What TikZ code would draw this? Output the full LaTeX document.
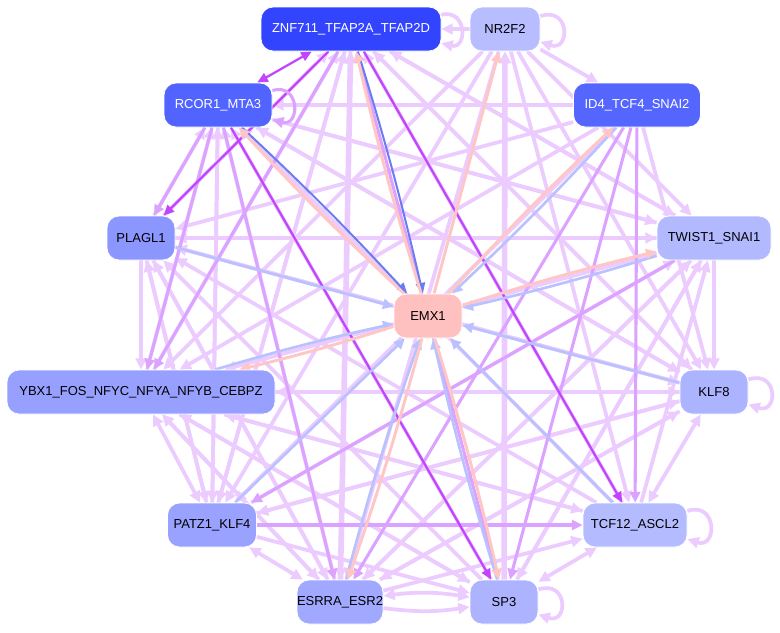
\documentclass[tikz,border=0pt]{standalone}
\usepackage{fontspec}
\setmainfont{Liberation Sans}
\usetikzlibrary{arrows.meta,backgrounds}
\definecolor{cZ}{HTML}{3344FF}
\definecolor{cR}{HTML}{5264FF}
\definecolor{cI}{HTML}{5566FF}
\definecolor{cP}{HTML}{8C96FF}
\definecolor{cY}{HTML}{97A0FF}
\definecolor{cA}{HTML}{9AA2FF}
\definecolor{cS}{HTML}{A0A8FF}
\definecolor{cQ}{HTML}{ADB3FF}
\definecolor{cK}{HTML}{ADB4FF}
\definecolor{cT}{HTML}{B3B9FF}
\definecolor{cC}{HTML}{B5BBFF}
\definecolor{cN}{HTML}{B8BDFF}
\definecolor{cE}{HTML}{FFC0C0}
\definecolor{ePale}{HTML}{ECCBFF}
\definecolor{eMed}{HTML}{DCA2FF}
\definecolor{eStr}{HTML}{C244FF}
\definecolor{eBlu}{HTML}{B9C2FF}
\definecolor{eDBlu}{HTML}{6A7CF2}
\definecolor{ePnk}{HTML}{FFC6C6}
\begin{document}
\begin{tikzpicture}[x=0.75pt,y=-0.75pt,
  nd/.style={rounded corners=9pt, minimum height=33pt, inner sep=0pt,
    font=\fontsize{9.75}{12}\selectfont, draw=white, line width=0.6pt},
  pale/.style={draw=ePale, line width=2.8pt, -{Triangle[length=8.5pt,width=8pt]}},
  palebi/.style={draw=ePale, line width=2.8pt, {Triangle[length=8.5pt,width=8pt]}-{Triangle[length=8.5pt,width=8pt]}},
  thickpale/.style={draw=ePale, line width=4.2pt, -{Triangle[length=9pt,width=9pt]}},
  medium/.style={draw=eMed, line width=2.3pt, -{Triangle[length=8pt,width=7.5pt]}},
  strong/.style={draw=eStr, line width=1.7pt, -{Triangle[length=8pt,width=7pt]}},
  strongbi/.style={draw=eStr, line width=1.7pt, {Triangle[length=8pt,width=7pt]}-{Triangle[length=8pt,width=7pt]}},
  blu/.style={draw=eBlu, line width=2pt, -{Triangle[length=8pt,width=7.5pt]}},
  dblu/.style={draw=eDBlu, line width=1.5pt, -{Triangle[length=8pt,width=7pt]}},
  pnk/.style={draw=ePnk, line width=2.2pt, -{Triangle[length=8pt,width=7.5pt]}}]

\node[nd, fill=cZ, text=white, minimum width=135pt] (Z) at (351,29) {ZNF711\_TFAP2A\_TFAP2D};
\node[nd, fill=cN, minimum width=52.5pt] (N) at (505,29) {NR2F2};
\node[nd, fill=cR, text=white, minimum width=81pt] (R) at (218,105) {RCOR1\_MTA3};
\node[nd, fill=cI, text=white, minimum width=95.25pt] (I) at (637,105) {ID4\_TCF4\_SNAI2};
\node[nd, fill=cP, minimum width=51pt] (P) at (141,238) {PLAGL1};
\node[nd, fill=cT, minimum width=85.5pt] (T) at (714,238) {TWIST1\_SNAI1};
\node[nd, fill=cE, minimum width=51pt] (E) at (428,316) {EMX1};
\node[nd, fill=cY, minimum width=201pt] (Y) at (141,392) {YBX1\_FOS\_NFYC\_NFYA\_NFYB\_CEBPZ};
\node[nd, fill=cK, minimum width=51pt] (K) at (714,392) {KLF8};
\node[nd, fill=cA, minimum width=66.75pt] (A) at (212,525) {PATZ1\_KLF4};
\node[nd, fill=cC, minimum width=78pt] (C) at (635,525) {TCF12\_ASCL2};
\node[nd, fill=cS, minimum width=64.5pt] (S) at (340,602) {ESRRA\_ESR2};
\node[nd, fill=cQ, minimum width=51pt] (Q) at (504,602) {SP3};

\begin{scope}[on background layer]
\fill[white] (0,0) rectangle (780,632);
\useasboundingbox (0,0) rectangle (780,632);
% pale edges
\foreach \a/\b in {N/Z, N/I, N/T, N/Y, N/A, N/S, N/K, N/C,
  I/R, I/Y, I/P, I/A, I/K,
  T/P, T/Y, T/R, T/Z, T/S, T/Q, T/K,
  K/Y, K/R, K/Z, K/A, K/S, K/P,
  C/Y, C/R, C/Z, C/P, C/T,
  Q/Y, Q/R, Q/P, Q/T,
  S/Y, S/R, S/P, S/C, S/K, S/T,
  A/R, A/Z, A/P, A/Q, A/K, A/T,
  Y/R, Y/Z, Y/Q, Y/C, Y/K,
  P/Y, P/R, P/Z, P/T, P/K, P/S, P/A,
  R/T, R/K, R/A,
  Z/T, Z/K, Z/A, Z/S}
  \draw[pale] (\a) -- (\b);
\foreach \a/\b in {Y/A, A/S, K/C, C/Q, Y/S}
  \draw[palebi] (\a) -- (\b);
\draw[palebi] (S) to[bend left=8] (Q);
\draw[pale] (S) to[bend right=8] (Q);
\draw[thickpale] (S) -- (Z);
\draw[thickpale] (Q) -- (N);
% medium edges
\foreach \a/\b in {R/P, I/C, A/C, T/A, R/Y, Z/Y, I/Q, I/S, R/S, Q/Z}
  \draw[medium] (\a) -- (\b);
% strong edges
\draw[strongbi] (Z) -- (R);
\foreach \a/\b in {Z/P, Z/C, R/Q}
  \draw[strong] (\a) -- (\b);
% self loops
\draw[pale] (Z.9) .. controls +(26,-6) and +(26,6) .. (Z.-9);
\draw[pale] (N.20) .. controls +(30,-10) and +(30,10) .. (N.-20);
\draw[medium] (R.15) .. controls +(28,-8) and +(28,8) .. (R.-15);
\draw[pale] (K.20) .. controls +(30,-10) and +(30,10) .. (K.-20);
\draw[pale] (C.15) .. controls +(30,-10) and +(30,10) .. (C.-15);
\draw[pale] (Q.20) .. controls +(30,-10) and +(30,10) .. (Q.-20);
% EMX1 edges
\draw[dblu] (Z) to[bend left=2] (E);
\draw[pnk] (E) to[bend left=2] (Z);
\draw[dblu] (R) to[bend left=2] (E);
\draw[pnk] (E) to[bend left=2] (R);
\draw[pnk] (E) -- (N);
\draw[blu] (I) to[bend left=2] (E);
\draw[pnk] (E) to[bend left=2] (I);
\draw[blu] (P) -- (E);
\draw[blu] (T) to[bend left=2] (E);
\draw[pnk] (E) to[bend left=2] (T);
\draw[blu] (Y) to[bend left=2] (E);
\draw[pnk] (E) to[bend left=2] (Y);
\draw[blu] (K) -- (E);
\draw[blu] (A) -- (E);
\draw[blu] (C) -- (E);
\draw[blu] (S) to[bend left=2] (E);
\draw[pnk] (E) to[bend left=2] (S);
\draw[blu] (Q) to[bend left=2] (E);
\draw[pnk] (E) to[bend left=2] (Q);
\end{scope}
\end{tikzpicture}
\end{document}
